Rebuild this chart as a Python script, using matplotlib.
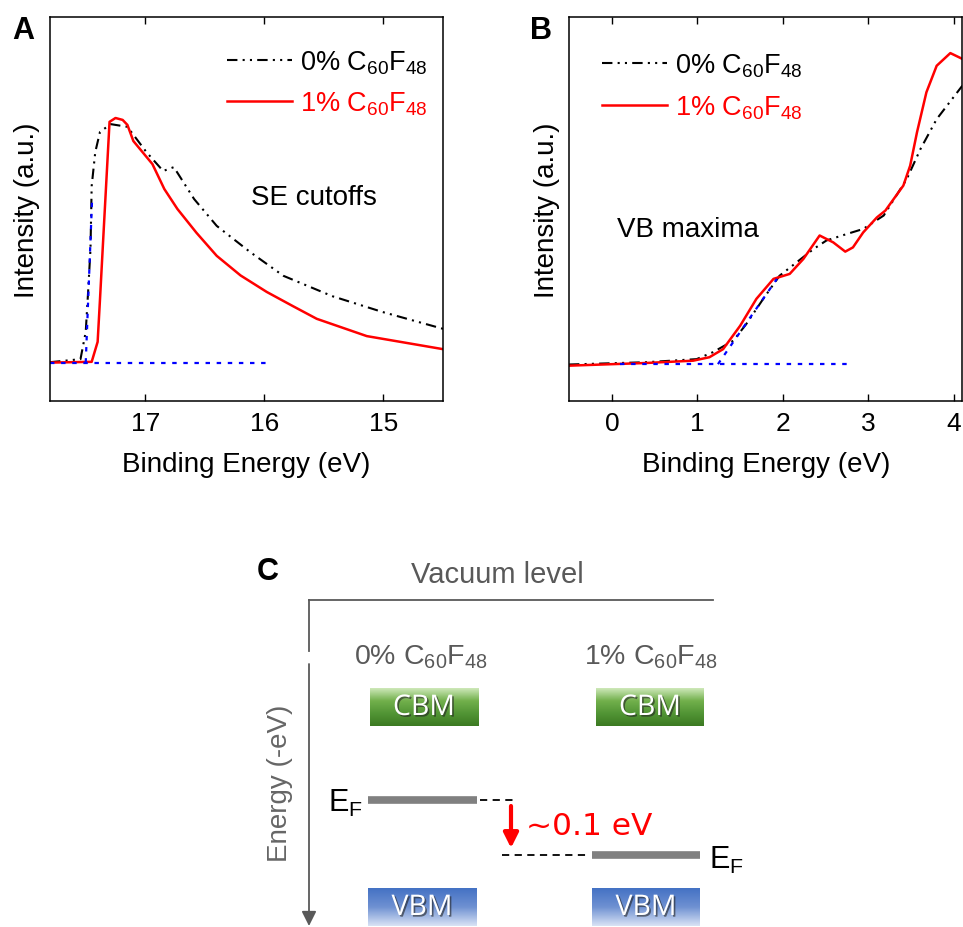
import matplotlib.pyplot as plt
import matplotlib.patheffects as pe
import numpy as np

plt.rcParams['font.family'] = ['Liberation Sans', 'DejaVu Sans']
plt.rcParams['mathtext.fontset'] = 'custom'
plt.rcParams['mathtext.rm'] = 'Liberation Sans'
plt.rcParams['mathtext.it'] = 'Liberation Sans:italic'
plt.rcParams['mathtext.bf'] = 'Liberation Sans:bold'

# Sample labels.
label_0 = r'0% C$_{\mathrm{60}}$F$_{\mathrm{48}}$'
label_1 = r'1% C$_{\mathrm{60}}$F$_{\mathrm{48}}$'

# Panel A: secondary electron cutoffs (binding energy in eV, intensity normalised).
se_be_0 = [17.8, 17.544, 17.50, 17.48, 17.46, 17.45, 17.42, 17.38, 17.29, 17.15,
           16.99, 16.85, 16.76, 16.59, 16.40, 16.12, 15.84, 15.43, 15.01, 14.5]
se_int_0 = [0.101, 0.109, 0.180, 0.284, 0.396, 0.560, 0.648, 0.701, 0.721, 0.714,
            0.648, 0.599, 0.609, 0.526, 0.456, 0.388, 0.326, 0.273, 0.232, 0.188]
se_be_1 = [17.8, 17.45, 17.40, 17.38, 17.35, 17.32, 17.30, 17.25, 17.19, 17.15,
           17.10, 16.94, 16.84, 16.73, 16.57, 16.40, 16.20, 15.98, 15.76, 15.56,
           15.14, 14.5]
se_int_1 = [0.10, 0.102, 0.154, 0.266, 0.440, 0.612, 0.727, 0.737, 0.732, 0.719,
            0.677, 0.617, 0.552, 0.500, 0.438, 0.378, 0.327, 0.284, 0.247, 0.214,
            0.169, 0.135]
se_base_x = [17.8, 15.95]
se_base_y = [0.10, 0.10]
se_edge_x = [17.50, 17.446]
se_edge_y = [0.10, 0.53]

# Panel B: valence band maxima.
vb_be_0 = [-0.504, 0.40, 0.99, 1.18, 1.42, 1.57, 1.77, 1.96, 2.16, 2.36, 2.51,
           2.75, 2.94, 3.18, 3.45, 3.61, 3.80, 4.10]
vb_int_0 = [0.095, 0.101, 0.109, 0.127, 0.157, 0.200, 0.266, 0.326, 0.361, 0.396,
            0.418, 0.435, 0.448, 0.483, 0.578, 0.656, 0.734, 0.821]
vb_be_1 = [-0.504, 0.40, 0.95, 1.14, 1.30, 1.50, 1.69, 1.89, 2.08, 2.24, 2.43,
           2.59, 2.73, 2.82, 2.94, 3.10, 3.20, 3.41, 3.49, 3.57, 3.68, 3.80,
           3.96, 4.10]
vb_int_1 = [0.092, 0.099, 0.105, 0.114, 0.135, 0.196, 0.266, 0.318, 0.331, 0.370,
            0.431, 0.413, 0.389, 0.400, 0.439, 0.478, 0.496, 0.561, 0.613, 0.700,
            0.804, 0.873, 0.906, 0.891]
vb_base_x = [0.09, 2.80]
vb_base_y = [0.096, 0.096]
vb_edge_x = [1.24, 1.93]
vb_edge_y = [0.096, 0.318]

# Panel C: Fermi level shift.
ef_shift_text = '~0.1 eV'

dashdotdot = (0, (5, 2.5, 1, 2.5, 1, 2.5))
dotted = (0, (2, 3))

fig = plt.figure(figsize=(9.63, 9.28), dpi=100)


def style_axes(ax):
    ax.tick_params(axis='x', direction='in', top=True, length=5, width=1,
                   labelsize=19, pad=7)
    ax.tick_params(axis='y', left=False, labelleft=False)
    for sp in ax.spines.values():
        sp.set_linewidth(1.1)
    ax.set_ylim(0, 1)
    ax.set_xlabel('Binding Energy (eV)', fontsize=20, labelpad=12)
    ax.set_ylabel('Intensity (a.u.)', fontsize=20, labelpad=7)


# Panel A
axa = fig.add_axes([50 / 963, 1 - 402 / 928, 393 / 963, 384 / 928])
axa.plot(se_be_0, se_int_0, color='black', lw=1.5, ls=dashdotdot, label=label_0)
axa.plot(se_be_1, se_int_1, color='red', lw=1.8, label=label_1)
axa.plot(se_base_x, se_base_y, color='blue', lw=1.6, ls=dotted)
axa.plot(se_edge_x, se_edge_y, color='blue', lw=1.6, ls=dotted)
axa.set_xlim(17.8, 14.5)
axa.set_xticks([17, 16, 15])
style_axes(axa)
axa.legend(loc='upper right', bbox_to_anchor=(0.962, 0.917), frameon=False,
           fontsize=19.5, handlelength=2.4, handletextpad=0.3,
           labelcolor='linecolor', borderaxespad=0, borderpad=0, labelspacing=0.5)
axa.text(0.672, 0.531, 'SE cutoffs', transform=axa.transAxes, fontsize=20,
         ha='center', va='center')
fig.text(12 / 963, 1 - 31 / 928, 'A', fontsize=22, fontweight='bold', va='center')

# Panel B
axb = fig.add_axes([569.3 / 963, 1 - 402 / 928, 393 / 963, 384 / 928])
axb.plot(vb_be_0, vb_int_0, color='black', lw=1.5, ls=dashdotdot, label=label_0)
axb.plot(vb_be_1, vb_int_1, color='red', lw=1.8, label=label_1)
axb.plot(vb_base_x, vb_base_y, color='blue', lw=1.6, ls=dotted)
axb.plot(vb_edge_x, vb_edge_y, color='blue', lw=1.6, ls=dotted)
axb.set_xlim(-0.5, 4.1)
axb.set_xticks([0, 1, 2, 3, 4])
style_axes(axb)
axb.legend(loc='upper left', bbox_to_anchor=(0.083, 0.91), frameon=False,
           fontsize=19.5, handlelength=2.4, handletextpad=0.3,
           labelcolor='linecolor', borderaxespad=0, borderpad=0, labelspacing=0.55)
axb.text(0.302, 0.448, 'VB maxima', transform=axb.transAxes, fontsize=20,
         ha='center', va='center')
fig.text(530 / 963, 1 - 31 / 928, 'B', fontsize=22, fontweight='bold', va='center')

# Panel C: schematic energy diagram (pixel-like coordinates)
axc = fig.add_axes([250 / 963, 0, 500 / 963, 378 / 928])
axc.axis('off')
gray = '#595959'
fig.text(268 / 963, 1 - 572 / 928, 'C', fontsize=22, fontweight='bold',
         ha='center', va='center')
axc.text(497, 575, 'Vacuum level', fontsize=21, color=gray, ha='center', va='center')
axc.plot([309, 713], [601, 601], color=gray, lw=1.3)
axc.plot([309, 309], [601, 652], color=gray, lw=1.3)
axc.annotate('', xy=(309, 927), xytext=(309, 665), annotation_clip=False,
             arrowprops=dict(arrowstyle='-|>', color=gray, lw=1.3, mutation_scale=22,
                             shrinkA=0, shrinkB=0))
axc.text(280, 783, 'Energy (-eV)', fontsize=20, color='#666666', rotation=90,
         ha='center', va='center')

for xc, lab in zip([421, 651], [label_0, label_1]):
    axc.text(xc, 657, lab, fontsize=20.5, color=gray, ha='center', va='center')


def grad_box(x0, x1, y0, y1, stops, text):
    n = 64
    t = np.linspace(0, 1, n)
    pos = np.linspace(0, 1, len(stops))
    cols = np.array([[int(c[i:i + 2], 16) / 255 for i in (1, 3, 5)] for c in stops])
    rgb = np.stack([np.interp(t, pos, cols[:, k]) for k in range(3)], axis=1)
    img = np.repeat(rgb[:, None, :], 2, axis=1)
    axc.imshow(img, extent=[x0, x1, y1, y0], aspect='auto', zorder=2,
               interpolation='bilinear')
    axc.text((x0 + x1) / 2, (y0 + y1) / 2 + 1, text, fontsize=20.5, color='white',
             ha='center', va='center', family='Open Sans', zorder=3,
             path_effects=[pe.withSimplePatchShadow(offset=(1.2, -1.2),
                                                    shadow_rgbFace='#222222', alpha=0.6)])


green = ['#cde8b8', '#72b04c', '#529535', '#3c7a22']
blue = ['#4472c4', '#6f91d2', '#d8e2f5']
grad_box(370, 478, 689, 727, green, 'CBM')
grad_box(596, 704, 689, 727, green, 'CBM')
grad_box(368, 476, 889, 927, blue, 'VBM')
grad_box(592, 700, 889, 927, blue, 'VBM')

# Fermi levels
axc.plot([368, 477], [801, 801], color='#808080', lw=5.5, solid_capstyle='butt')
axc.plot([480, 517], [801, 801], color='black', lw=1.3, ls=(0, (4, 3)))
axc.plot([592, 700], [856, 856], color='#808080', lw=5.5, solid_capstyle='butt')
axc.plot([502, 590], [856, 856], color='black', lw=1.3, ls=(0, (4, 3)))
axc.text(345, 803, r'E$_{\mathrm{F}}$', fontsize=22, ha='center', va='center')
axc.text(726, 860, r'E$_{\mathrm{F}}$', fontsize=22, ha='center', va='center')
axc.annotate('', xy=(511, 849), xytext=(511, 807),
             arrowprops=dict(arrowstyle='-|>', color='red', lw=3, mutation_scale=22,
                             shrinkA=0, shrinkB=0))
axc.text(526, 827, ef_shift_text, fontsize=22.5, color='red', ha='left', va='center',
         family='DejaVu Sans')

axc.set_xlim(250, 750)
axc.set_ylim(928, 550)

fig.savefig('out.png', dpi=100)
